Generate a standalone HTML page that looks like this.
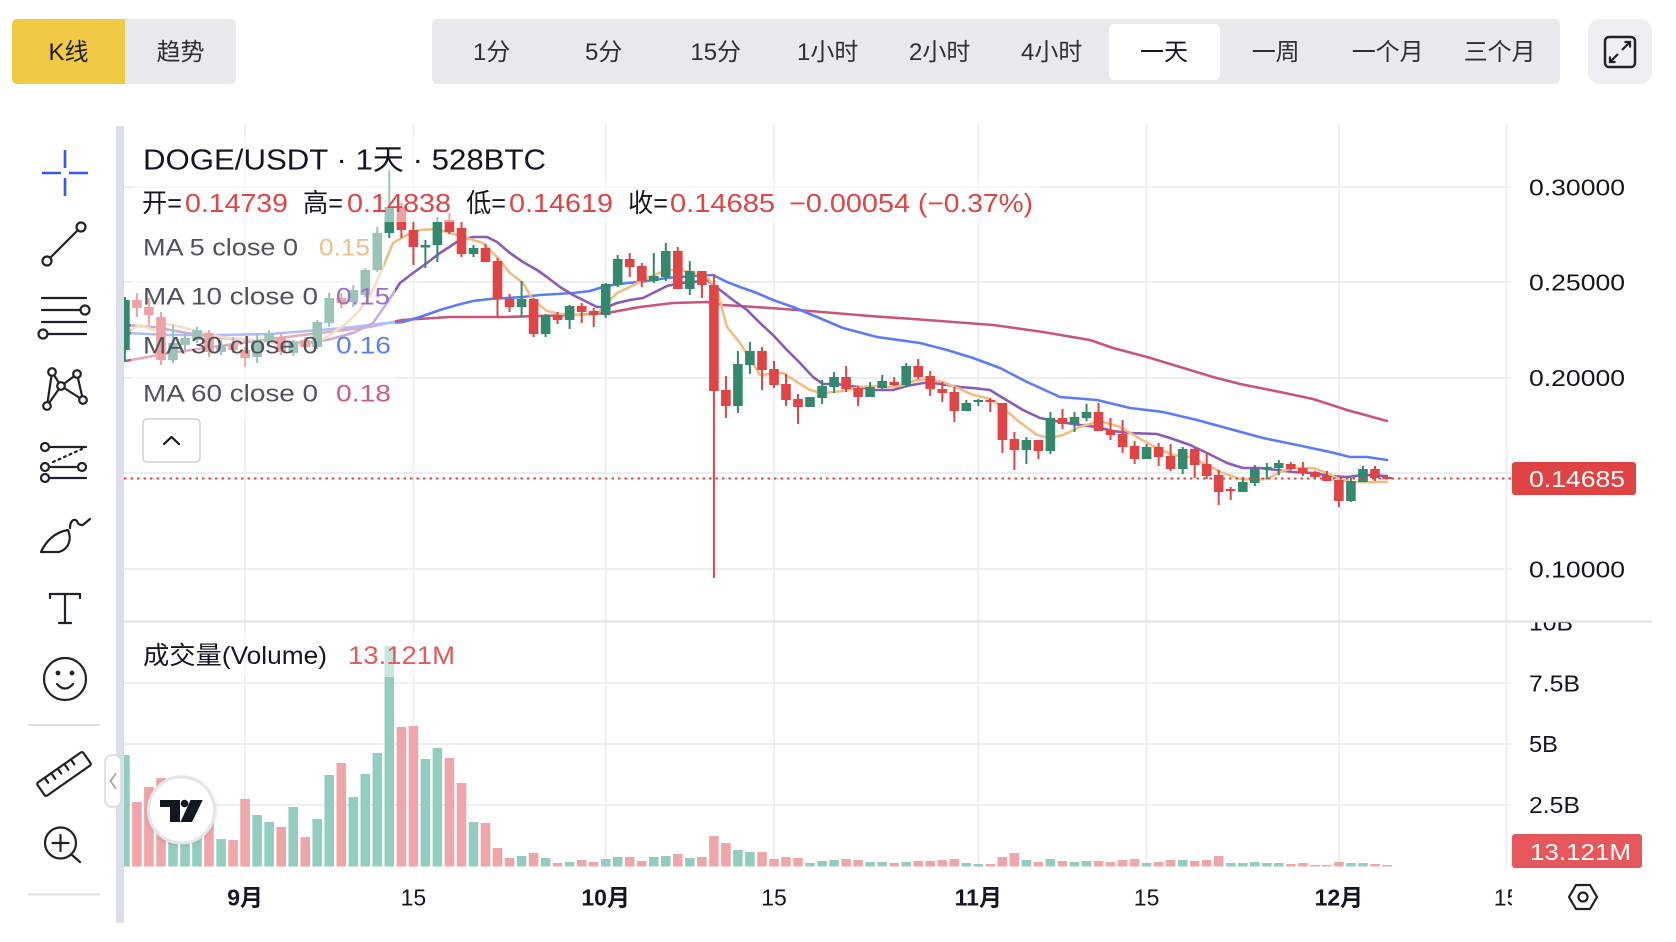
<!DOCTYPE html>
<html><head><meta charset="utf-8"><style>
html,body{margin:0;padding:0;background:#fff;width:1676px;height:942px;overflow:hidden}
svg{display:block}
text{font-family:"Liberation Sans","Noto Sans CJK SC",sans-serif}
</style></head><body>
<svg width="1676" height="942" viewBox="0 0 1676 942" xmlns="http://www.w3.org/2000/svg">
<defs>
<clipPath id="cp"><rect x="124" y="124" width="1388" height="497"/></clipPath>
<clipPath id="cv"><rect x="124" y="623" width="1388" height="246"/></clipPath>
<clipPath id="cva"><rect x="1512" y="622.5" width="164" height="240"/></clipPath>
<clipPath id="ct"><rect x="124" y="875" width="1388" height="50"/></clipPath>
<filter id="sh" x="-30%" y="-30%" width="160%" height="160%"><feDropShadow dx="0" dy="1" stdDeviation="2" flood-color="#000" flood-opacity="0.12"/></filter>
</defs>

<!-- top bar -->
<rect x="12" y="19" width="224" height="65" rx="5" fill="#E8E9ED"/>
<rect x="12" y="19" width="113" height="65" rx="5" fill="#F0CA44"/>
<rect x="100" y="19" width="25" height="65" fill="#F0CA44"/>
<text x="68.5" y="60" font-size="24" text-anchor="middle" fill="#1E2026">K线</text>
<text x="180.5" y="60" font-size="24" text-anchor="middle" fill="#2B2F36">趋势</text>

<rect x="432" y="19" width="1128" height="65" rx="5" fill="#E8E9ED"/>
<rect x="1109" y="24" width="111" height="56" rx="5" fill="#FFFFFF"/>
<g font-size="24" text-anchor="middle" fill="#2B2F36">
<text x="491.7" y="60">1分</text>
<text x="603.7" y="60">5分</text>
<text x="715.7" y="60">15分</text>
<text x="827.7" y="60">1小时</text>
<text x="939.7" y="60">2小时</text>
<text x="1051.7" y="60">4小时</text>
<text x="1164" y="60" fill="#131722">一天</text>
<text x="1275.7" y="60">一周</text>
<text x="1387.7" y="60">一个月</text>
<text x="1499.7" y="60">三个月</text>
</g>
<rect x="1588" y="19" width="64" height="65" rx="12" fill="#EEEFF2"/>
<rect x="1605" y="37" width="30" height="30" rx="4" fill="none" stroke="#1E2329" stroke-width="2.5"/>
<path d="M1622 50 L1630 42 M1624.5 42 H1630 V47.5 M1618 54 L1610 62 M1610 56.5 V62 H1615.5" fill="none" stroke="#1E2329" stroke-width="2.2"/>

<!-- left toolbar -->
<g fill="none" stroke="#1E2329" stroke-width="2.2" stroke-linecap="round" stroke-linejoin="round">
<path d="M42 173H61 M69 173H88 M65 150V168 M65 178V196" stroke="#3558F5" stroke-width="2.6" stroke-linecap="butt"/>
<line x1="50" y1="258" x2="78" y2="230"/>
<circle cx="47" cy="261" r="4.5" fill="#fff"/><circle cx="81" cy="227" r="4.5" fill="#fff"/>
<path d="M42 298H86 M42 310H80 M42 322H86 M48 334H86"/>
<circle cx="85" cy="310" r="4.5" fill="#fff"/><circle cx="43" cy="334" r="4.5" fill="#fff"/>
<path d="M47 406 L52 372 L61 386 Z M61 386 L77 374 L83 400 Z"/>
<circle cx="52" cy="372" r="3.8" fill="#fff"/><circle cx="61" cy="386" r="3.8" fill="#fff"/><circle cx="77" cy="374" r="3.8" fill="#fff"/><circle cx="47" cy="406" r="3.8" fill="#fff"/><circle cx="83" cy="400" r="3.8" fill="#fff"/>
<path d="M49 447H86 M49 467H78 M49 478H86"/>
<path d="M53 462 L82 449" stroke-dasharray="2 4"/>
<circle cx="45" cy="447" r="4" fill="#fff"/><circle cx="45" cy="467" r="4" fill="#fff"/><circle cx="82" cy="467" r="4" fill="#fff"/><circle cx="45" cy="478" r="4" fill="#fff"/>
<path d="M41 552 C46 541 55 532 68 530 C72 539 69 549 59 552 Z"/>
<path d="M70 528 C70 521 74 518 77 521 C78 525 82 526 84 524 L90 519"/>
<path d="M50 598V594H80V598 M65 594V623 M59 623H71"/>
<circle cx="65" cy="679" r="21"/>
<circle cx="58" cy="673" r="1.3" fill="#1E2329"/><circle cx="72" cy="673" r="1.3" fill="#1E2329"/>
<path d="M57 684 Q65 693 73 684"/>
<g transform="translate(64 774) rotate(-35)"><rect x="-28" y="-8" width="56" height="16" rx="2"/><path d="M-18 -8V-2 M-10 -8V-1 M-2 -8V-2 M6 -8V-1 M14 -8V-2"/></g>
<circle cx="60.5" cy="843" r="15.5"/>
<path d="M60.5 835V851 M52.5 843H68.5 M72 855 L80 862"/>
</g>
<line x1="28" y1="725" x2="100" y2="725" stroke="#DCDFE7" stroke-width="2"/>
<line x1="28" y1="894.5" x2="100" y2="894.5" stroke="#DCDFE7" stroke-width="2"/>
<rect x="116" y="126" width="8" height="797" fill="#DCDFE7"/>

<!-- grids -->
<g stroke="#EDEEF0" stroke-width="2">
<path d="M124 187H1512 M124 282H1512 M124 378H1512 M124 473H1512 M124 569H1512"/>
<path d="M124 683H1512 M124 744H1512 M124 805H1512"/>
<path d="M245.1 124V868 M413.4 124V868 M605.7 124V868 M774 124V868 M978.3 124V868 M1146.6 124V868 M1338.9 124V868 M1506.6 124V868"/>
</g>
<line x1="124" y1="621.5" x2="1652" y2="621.5" stroke="#DFE1E6" stroke-width="2"/>

<!-- price pane -->
<g clip-path="url(#cp)">
<g fill="none" stroke-linejoin="round" stroke-linecap="round" stroke-width="2.6">
<polyline stroke="#C8557D" points="125,361 170,353 220,346 270,339 320,333 370,327 402,320 450,317 507,317 573,315 607,313 640,307 673,303 707,302 723,305 740,306 770,308 810,311 870,316 927,320 993,325 1043,332 1090,340 1113,348 1147,357 1180,367 1213,377 1240,384 1280,392 1313,399 1347,410 1387,421"/>
<polyline stroke="#5A7DF5" points="125,333 170,335 220,335 270,334 320,330 353,327 387,323 403,322 420,317 440,310 457,305 473,301 490,299 507,298 523,297 540,295 557,294 573,293 590,291 603,287 613,285 627,283 640,282 653,280 667,278 680,277 693,276 713,275 727,282 740,287 757,293 773,300 793,307 817,317 843,328 877,337 920,343 947,350 973,358 1000,368 1027,382 1060,397 1097,400 1130,408 1163,412 1197,420 1230,429 1263,438 1297,445 1330,452 1350,457 1367,457 1387,460"/>
<polyline stroke="#8C5AB9" points="125,325 153,327 187,333 220,338 253,340 287,342 307,343 327,340 353,333 373,323 387,303 400,283 413,273 427,263 440,253 460,240 473,237 487,237 497,242 510,253 523,262 537,270 547,277 560,287 573,295 587,302 597,307 607,307 617,303 630,300 643,298 653,293 667,286 680,283 693,282 707,280 720,290 733,300 747,310 760,323 773,335 787,350 800,363 813,377 823,384 837,384 850,386 860,387 873,390 893,390 907,386 923,383 933,383 947,385 960,387 973,388 990,390 1003,398 1023,410 1040,418 1060,422 1080,425 1097,427 1113,431 1130,433 1157,434 1173,439 1190,445 1207,453 1227,463 1243,468 1260,468 1277,470 1293,472 1313,473 1330,476 1347,477 1363,475 1387,476"/>
<polyline stroke="#F0BD82" points="125,333 140,325 153,330 167,324 177,326 220,337 253,340 287,345 313,345 327,337 347,323 360,310 373,290 383,267 393,243 407,235 420,230 437,229 450,233 483,243 497,257 510,273 523,283 533,300 547,311 560,314 580,315 597,314 607,303 617,293 630,287 647,278 667,270 680,270 693,273 707,277 717,290 727,327 740,343 760,375 783,373 797,382 810,390 823,393 843,391 860,387 873,386 887,387 900,386 917,380 930,379 943,382 960,389 973,395 987,398 997,403 1017,420 1037,435 1050,438 1063,435 1080,427 1100,421 1120,427 1137,437 1153,446 1173,455 1190,457 1207,465 1223,473 1240,479 1253,480 1267,479 1280,472 1293,468 1313,468 1327,473 1337,478 1350,482 1387,482"/>
</g>
<path stroke="#32896E" stroke-width="2" fill="none" d="M124.9 297V361 M173 325V363 M185 333V350 M197 327V343 M221.1 340V355 M257.1 333V363 M269.1 330V345 M293.2 340V356 M317.2 320V349 M329.2 293V327 M353.3 285V307 M365.3 268V297 M377.3 227V272 M389.3 170V238 M425.4 240V268 M437.4 217V262 M473.5 245V257 M521.6 281V317 M545.6 314V337 M569.6 305V329 M605.7 283V318 M617.7 255V287 M653.8 253V283 M665.8 243V281 M689.8 261V295 M737.9 351V413 M749.9 342V374 M810 397V407 M822.1 380V404 M834.1 372V393 M870.1 382V397 M882.2 375V389 M906.2 363V387 M966.3 400V411 M978.3 399V406 M1026.4 437V464 M1050.4 412V454 M1074.5 412V432 M1086.5 404V421 M1146.6 444V459 M1182.7 447V474 M1242.8 477V492 M1254.8 465V486 M1266.8 463V479 M1278.8 460V475 M1350.9 478V502 M1363 466V482"/>
<path stroke="#32896E" stroke-width="9.6" fill="none" d="M124.9 300V350 M173 343V360 M185 338V345 M197 330V340 M221.1 345V352 M257.1 340V357 M269.1 333V342 M293.2 342V353 M317.2 322V347 M329.2 298V323 M353.3 290V302 M365.3 270V295 M377.3 233V270 M389.3 207V233 M425.4 245V247.5 M437.4 222V245 M473.5 248V254 M521.6 299V307 M545.6 315V334 M569.6 306V320 M605.7 284V315 M617.7 259V285 M653.8 276V281 M665.8 251V277 M689.8 271V289 M737.9 364V406 M749.9 351V365 M810 397V407 M822.1 386V398 M834.1 377V387 M870.1 387V397 M882.2 381V388 M906.2 366V385 M966.3 403V411 M978.3 400V402 M1026.4 440V450 M1050.4 418V451 M1074.5 417V424 M1086.5 412V418 M1146.6 447V459 M1182.7 449V469 M1242.8 482V492 M1254.8 469V483 M1266.8 467V469.5 M1278.8 463V468 M1350.9 481V501 M1363 469V482"/>
<path stroke="#E04444" stroke-width="2" fill="none" d="M136.9 293V317 M148.9 298V325 M161 312V365 M209 330V357 M233.1 337V353 M245.1 347V367 M281.2 333V355 M305.2 337V350 M341.3 293V308 M401.4 203V238 M413.4 222V265 M449.4 213V234 M461.5 222V257 M485.5 244V262 M497.5 258V318 M509.5 294V312 M533.6 298V337 M557.6 312V324 M581.7 303V323 M593.7 308V327 M629.7 253V277 M641.8 263V287 M677.8 247V289 M701.9 271V298 M713.9 274V578 M725.9 376V418 M762 347V390 M774 361V388 M786 374V406 M798 394V424 M846.1 366V392 M858.1 386V406 M894.2 377V386 M918.2 359V379 M930.2 371V396 M942.3 382V402 M954.3 387V422 M990.3 398V412 M1002.4 403V453 M1014.4 432V470 M1038.4 440V459 M1062.5 409V429 M1098.5 403V431 M1110.5 418V440 M1122.6 420V453 M1134.6 441V464 M1158.6 443V466 M1170.6 444V471 M1194.7 448V478 M1206.7 453V479 M1218.7 470V505 M1230.7 487V500 M1290.8 462V470 M1302.9 462V476 M1314.9 471V478 M1326.9 471V481 M1338.9 480V507 M1375 466V481 M1387 475V479"/>
<path stroke="#E04444" stroke-width="9.6" fill="none" d="M136.9 300V308 M148.9 307V315 M161 317V360 M209 333V352 M233.1 345V350 M245.1 350V358 M281.2 337V352 M305.2 340V347 M341.3 298V303 M401.4 207V230 M413.4 230V247 M449.4 220V232 M461.5 228V254 M485.5 248V262 M497.5 261V299 M509.5 299V307 M533.6 299V334 M557.6 315V320 M581.7 306V312 M593.7 311V315 M629.7 259V267 M641.8 266V281 M677.8 251V289 M701.9 271V285 M713.9 285V391 M725.9 390V406 M762 351V370 M774 369V385 M786 384V400 M798 399V407 M846.1 377V389 M858.1 388V397 M894.2 382V385 M918.2 366V377 M930.2 376V389 M942.3 389V393 M954.3 392V411 M990.3 400V402 M1002.4 403V440 M1014.4 439V450 M1038.4 440V451 M1062.5 418V424 M1098.5 412V431 M1110.5 430V435 M1122.6 434V447 M1134.6 446V459 M1158.6 447V457 M1170.6 456V469 M1194.7 449V465 M1206.7 464V476 M1218.7 475V492 M1230.7 489V491 M1290.8 464V469 M1302.9 468V473 M1314.9 472V477 M1326.9 476V481 M1338.9 480V501 M1375 469V478 M1387 477V479"/>
</g>
<line x1="124" y1="478.5" x2="1512" y2="478.5" stroke="#E04444" stroke-width="2" stroke-dasharray="2.5 4"/>

<!-- volume pane -->
<g clip-path="url(#cv)">
<path stroke="#93CDBF" stroke-width="9.6" fill="none" d="M124.9 755V866.5 M173 812V866.5 M185 818V866.5 M197 815V866.5 M221.1 839V866.5 M257.1 815V866.5 M269.1 822V866.5 M293.2 807V866.5 M317.2 819V866.5 M329.2 775V866.5 M353.3 797V866.5 M365.3 774V866.5 M377.3 753V866.5 M389.3 646V866.5 M425.4 759V866.5 M437.4 748V866.5 M473.5 822V866.5 M521.6 856V866.5 M545.6 858V866.5 M569.6 862V866.5 M605.7 859V866.5 M617.7 857V866.5 M653.8 857V866.5 M665.8 856V866.5 M689.8 858V866.5 M737.9 850V866.5 M749.9 852V866.5 M810 863V866.5 M822.1 861V866.5 M834.1 860V866.5 M870.1 862V866.5 M882.2 862V866.5 M906.2 862V866.5 M966.3 863V866.5 M978.3 864V866.5 M1026.4 860V866.5 M1050.4 859V866.5 M1074.5 862V866.5 M1086.5 861V866.5 M1146.6 863V866.5 M1182.7 860V866.5 M1230.7 863V866.5 M1242.8 863V866.5 M1254.8 862V866.5 M1266.8 863V866.5 M1278.8 863V866.5 M1350.9 863V866.5 M1363 863V866.5"/>
<path stroke="#F0A5A8" stroke-width="9.6" fill="none" d="M136.9 802V866.5 M148.9 787V866.5 M161 778V866.5 M209 805V866.5 M233.1 840V866.5 M245.1 799V866.5 M281.2 827V866.5 M305.2 837V866.5 M341.3 763V866.5 M401.4 727V866.5 M413.4 726V866.5 M449.4 758V866.5 M461.5 783V866.5 M485.5 823V866.5 M497.5 848V866.5 M509.5 858V866.5 M533.6 853V866.5 M557.6 863V866.5 M581.7 860V866.5 M593.7 862V866.5 M629.7 857V866.5 M641.8 861V866.5 M677.8 854V866.5 M701.9 857V866.5 M713.9 836V866.5 M725.9 843V866.5 M762 852V866.5 M774 859V866.5 M786 857V866.5 M798 858V866.5 M846.1 859V866.5 M858.1 860V866.5 M894.2 863V866.5 M918.2 861V866.5 M930.2 861V866.5 M942.3 860V866.5 M954.3 859V866.5 M990.3 864V866.5 M1002.4 857V866.5 M1014.4 853V866.5 M1038.4 862V866.5 M1062.5 861V866.5 M1098.5 861V866.5 M1110.5 862V866.5 M1122.6 860V866.5 M1134.6 859V866.5 M1158.6 862V866.5 M1170.6 860V866.5 M1194.7 861V866.5 M1206.7 860V866.5 M1218.7 856V866.5 M1290.8 864V866.5 M1302.9 863V866.5 M1314.9 865V866.5 M1326.9 865V866.5 M1338.9 862V866.5 M1375 864V866.5 M1387 865V866.5"/>
</g>

<!-- legend backgrounds -->
<g fill="#FFFFFF" fill-opacity="0.5">
<rect x="131" y="137" width="425" height="44"/>
<rect x="131" y="181" width="909" height="41"/>
<rect x="131" y="222" width="253" height="49"/>
<rect x="131" y="271" width="264" height="49"/>
<rect x="131" y="320" width="264" height="49"/>
<rect x="131" y="369" width="264" height="49"/>
<rect x="131" y="633" width="334" height="44"/>
</g>

<!-- legend text -->
<text x="143" y="169.5" font-size="29" fill="#131722" textLength="403" lengthAdjust="spacingAndGlyphs">DOGE/USDT · 1天 · 528BTC</text>
<g font-size="26">
<text x="142" y="212" fill="#131722" textLength="40" lengthAdjust="spacingAndGlyphs">开=</text>
<text x="185" y="212" fill="#E04444" textLength="103" lengthAdjust="spacingAndGlyphs">0.14739</text>
<text x="303" y="212" fill="#131722" textLength="40" lengthAdjust="spacingAndGlyphs">高=</text>
<text x="347" y="212" fill="#E04444" textLength="104" lengthAdjust="spacingAndGlyphs">0.14838</text>
<text x="466" y="212" fill="#131722" textLength="40" lengthAdjust="spacingAndGlyphs">低=</text>
<text x="509" y="212" fill="#E04444" textLength="104" lengthAdjust="spacingAndGlyphs">0.14619</text>
<text x="628" y="212" fill="#131722" textLength="40" lengthAdjust="spacingAndGlyphs">收=</text>
<text x="670" y="212" fill="#E04444" textLength="105" lengthAdjust="spacingAndGlyphs">0.14685</text>
<text x="789" y="212" fill="#E04444" textLength="121" lengthAdjust="spacingAndGlyphs">−0.00054</text>
<text x="918" y="212" fill="#E04444" textLength="115" lengthAdjust="spacingAndGlyphs">(−0.37%)</text>
</g>
<g font-size="24">
<text x="143" y="255.6" fill="#50535E" textLength="155" lengthAdjust="spacingAndGlyphs">MA 5 close 0</text>
<text x="319" y="255.6" fill="#EFBE85" textLength="51" lengthAdjust="spacingAndGlyphs">0.15</text>
<text x="143" y="304.6" fill="#50535E" textLength="175" lengthAdjust="spacingAndGlyphs">MA 10 close 0</text>
<text x="336" y="304.6" fill="#9C6CC8" textLength="54" lengthAdjust="spacingAndGlyphs">0.15</text>
<text x="143" y="353.6" fill="#50535E" textLength="175" lengthAdjust="spacingAndGlyphs">MA 30 close 0</text>
<text x="336" y="353.6" fill="#5B80F2" textLength="55" lengthAdjust="spacingAndGlyphs">0.16</text>
<text x="143" y="401.6" fill="#50535E" textLength="175" lengthAdjust="spacingAndGlyphs">MA 60 close 0</text>
<text x="336" y="401.6" fill="#D05A80" textLength="55" lengthAdjust="spacingAndGlyphs">0.18</text>
</g>
<rect x="143" y="419" width="57" height="43" rx="4" fill="#FFFFFF" stroke="#CDD0D6" stroke-width="1.5"/>
<path d="M164 444 L171.5 437 L179 444" fill="none" stroke="#131722" stroke-width="2.2" stroke-linecap="round" stroke-linejoin="round"/>

<text x="143" y="664" font-size="25" fill="#131722" textLength="184" lengthAdjust="spacingAndGlyphs">成交量(Volume)</text>
<text x="348" y="664" font-size="25" fill="#E55A5A" textLength="107" lengthAdjust="spacingAndGlyphs">13.121M</text>

<!-- logo -->
<circle cx="181.5" cy="810" r="33" fill="#FFFFFF" stroke="#E3E5EA" stroke-width="3" filter="url(#sh)"/>
<path d="M160 800H180V822H170V807H160Z" fill="#131722"/>
<circle cx="184.5" cy="803.5" r="3.8" fill="#131722"/>
<path d="M190.5 800H202.7L192 822H180.5Z" fill="#131722"/>

<!-- collapse button -->
<rect x="105" y="755" width="16" height="52" rx="7" fill="#FFFFFF" stroke="#D5D8E0" stroke-width="1.5"/>
<path d="M115.5 774 L110.5 781 L115.5 788" fill="none" stroke="#A0A3AB" stroke-width="1.8" stroke-linecap="round"/>

<!-- price axis -->
<g font-size="23" fill="#131722">
<text x="1529" y="195.5" textLength="96" lengthAdjust="spacingAndGlyphs">0.30000</text>
<text x="1529" y="290.5" textLength="96" lengthAdjust="spacingAndGlyphs">0.25000</text>
<text x="1529" y="386" textLength="96" lengthAdjust="spacingAndGlyphs">0.20000</text>
<text x="1529" y="577.5" textLength="96" lengthAdjust="spacingAndGlyphs">0.10000</text>
</g>
<rect x="1512" y="462" width="124" height="33" rx="3" fill="#DF4343"/>
<text x="1529" y="487" font-size="23" fill="#FFFFFF" textLength="96" lengthAdjust="spacingAndGlyphs">0.14685</text>
<g font-size="23" fill="#131722" clip-path="url(#cva)">
<text x="1529" y="630.5" textLength="44" lengthAdjust="spacingAndGlyphs">10B</text>
<text x="1529" y="691.3" textLength="51" lengthAdjust="spacingAndGlyphs">7.5B</text>
<text x="1529" y="752.2" textLength="29" lengthAdjust="spacingAndGlyphs">5B</text>
<text x="1529" y="813.2" textLength="51" lengthAdjust="spacingAndGlyphs">2.5B</text>
</g>
<rect x="1512" y="834" width="130" height="34" rx="3" fill="#E5575A"/>
<text x="1530" y="860" font-size="23" fill="#FFFFFF" textLength="101" lengthAdjust="spacingAndGlyphs">13.121M</text>

<!-- time axis -->
<g font-size="23" fill="#131722" text-anchor="middle" clip-path="url(#ct)">
<text x="245.1" y="905.7" font-weight="bold">9月</text>
<text x="413.4" y="905.7">15</text>
<text x="605.7" y="905.7" font-weight="bold">10月</text>
<text x="774" y="905.7">15</text>
<text x="978.3" y="905.7" font-weight="bold">11月</text>
<text x="1146.6" y="905.7">15</text>
<text x="1338.9" y="905.7" font-weight="bold">12月</text>
<text x="1506.6" y="905.7">15</text>
</g>
<path d="M1569 897 L1576 885 H1590 L1597 897 L1590 909 H1576 Z" fill="none" stroke="#1E2329" stroke-width="2.2" stroke-linejoin="round"/>
<circle cx="1583" cy="897" r="4.5" fill="none" stroke="#1E2329" stroke-width="2.2"/>
</svg>
</body></html>
